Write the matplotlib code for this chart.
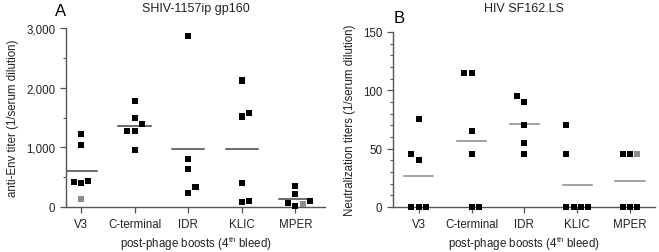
import numpy as np
import matplotlib.pyplot as plt
from matplotlib.ticker import FuncFormatter, MultipleLocator

plt.rcParams['font.family'] = ['Liberation Sans', 'DejaVu Sans']
plt.rcParams['mathtext.fontset'] = 'custom'
plt.rcParams['mathtext.rm'] = 'Liberation Sans'

categories = ['V3', 'C-terminal', 'IDR', 'KLIC', 'MPER']

# panel A: anti-Env titers, one list per group
env_titers = [
    [1225, 1046, 425, 403, 436, 134],
    [1774, 1494, 1393, 1281, 1281, 962],
    [2865, 800, 638, 241, 341],
    [2121, 1517, 1578, 403, 78, 100],
    [353, 213, 73, 17, 50, 106],
]
env_gray = [
    [0, 0, 0, 0, 0, 1],
    [0, 0, 0, 0, 0, 0],
    [0, 0, 0, 0, 0],
    [0, 0, 0, 0, 0, 0],
    [0, 0, 0, 0, 1, 0],
]
env_slots = [
    [0, 0, -1, 0, 1, 0],
    [0, 0, 1, -1, 0, 0],
    [0, 0, 0, 0, 1],
    [0, 0, 1, 0, 0, 1],
    [0, 0, -1, 0, 1, 2],
]

# panel B: neutralization titers
nab_titers = [
    [75, 45, 40, 0, 0, 0],
    [115, 115, 65, 45, 0, 0],
    [95, 90, 70, 55, 45],
    [70, 45, 0, 0, 0, 0],
    [45, 45, 45, 0, 0, 0],
]
nab_gray = [
    [0, 0, 0, 0, 0, 0],
    [0, 0, 0, 0, 0, 0],
    [0, 0, 0, 0, 0],
    [0, 0, 0, 0, 0, 0],
    [0, 0, 1, 0, 0, 0],
]
nab_slots = [
    [0, -1, 0, -1, 0, 1],
    [-1, 0, 0, 0, 0, 1],
    [-1, 0, 0, 0, 0],
    [-1.6, -1.6, -1.5, -0.5, 0.5, 1.5],
    [-1, 0, 1, -1, 0, 1],
]

fig = plt.figure(figsize=(6.59, 2.53), dpi=100)
axA = fig.add_axes([0.100, 0.178, 0.393, 0.707])
axB = fig.add_axes([0.596, 0.178, 0.398, 0.692])

def scatter_panel(ax, data, gray, slots, mean_color, half):
    for i, (vals, g, s) in enumerate(zip(data, gray, slots)):
        x = i + 1 + np.array(s) * 0.137
        cols = ['#8c8c8c' if gi else 'black' for gi in g]
        ax.scatter(x, vals, marker='s', s=19, c=cols, linewidths=0,
                   zorder=3, clip_on=False)
        m = np.mean(vals)
        ax.plot([i + 1 - half, i + 1 + half], [m, m], color=mean_color,
                lw=1.1, zorder=2)
    ax.spines['top'].set_visible(False)
    ax.spines['right'].set_visible(False)
    for sp in ('left', 'bottom'):
        ax.spines[sp].set_color('#555555')
        ax.spines[sp].set_linewidth(1.0)
    ax.set_xticks(range(1, 6))
    ax.set_xticklabels(categories)
    ax.tick_params(axis='both', colors='#555555', labelcolor='#222222',
                   labelsize=8.3, length=4, width=0.9)
    ax.tick_params(axis='y', which='minor', length=2, width=0.8,
                   colors='#555555')
    ax.tick_params(axis='x', pad=4)
    ax.set_xlabel(r'post-phage boosts (4$^{\rm th}$ bleed)', fontsize=8.3,
                  color='#222222', labelpad=3)

scatter_panel(axA, env_titers, env_gray, env_slots, '#444444', 0.30)
axA.set_xlim(0.72, 5.55)
axA.set_ylim(0, 3000)
axA.yaxis.set_major_locator(MultipleLocator(1000))
axA.yaxis.set_minor_locator(MultipleLocator(500))
axA.yaxis.set_major_formatter(FuncFormatter(lambda v, p: f'{int(v):,}'))
axA.set_ylabel('anti-Env titer (1/serum dilution)', fontsize=8.3,
               color='#222222', labelpad=5)
axA.set_title('SHIV-1157ip gp160', fontsize=9, color='#222222', pad=12)
fig.text(0.083, 0.935, 'A', fontsize=12, color='black')

scatter_panel(axB, nab_titers, nab_gray, nab_slots, '#888888', 0.28)
axB.set_xlim(0.51, 5.47)
axB.set_ylim(0, 150)
axB.yaxis.set_major_locator(MultipleLocator(50))
axB.yaxis.set_minor_locator(MultipleLocator(10))
axB.set_ylabel('Neutralization titers (1/serum dilution)', fontsize=8.3,
               color='#222222', labelpad=5)
axB.set_title('HIV SF162.LS', fontsize=9, color='#222222', pad=15)
fig.text(0.598, 0.91, 'B', fontsize=12, color='black')

fig.savefig('out.png', dpi=100)
plt.close(fig)
